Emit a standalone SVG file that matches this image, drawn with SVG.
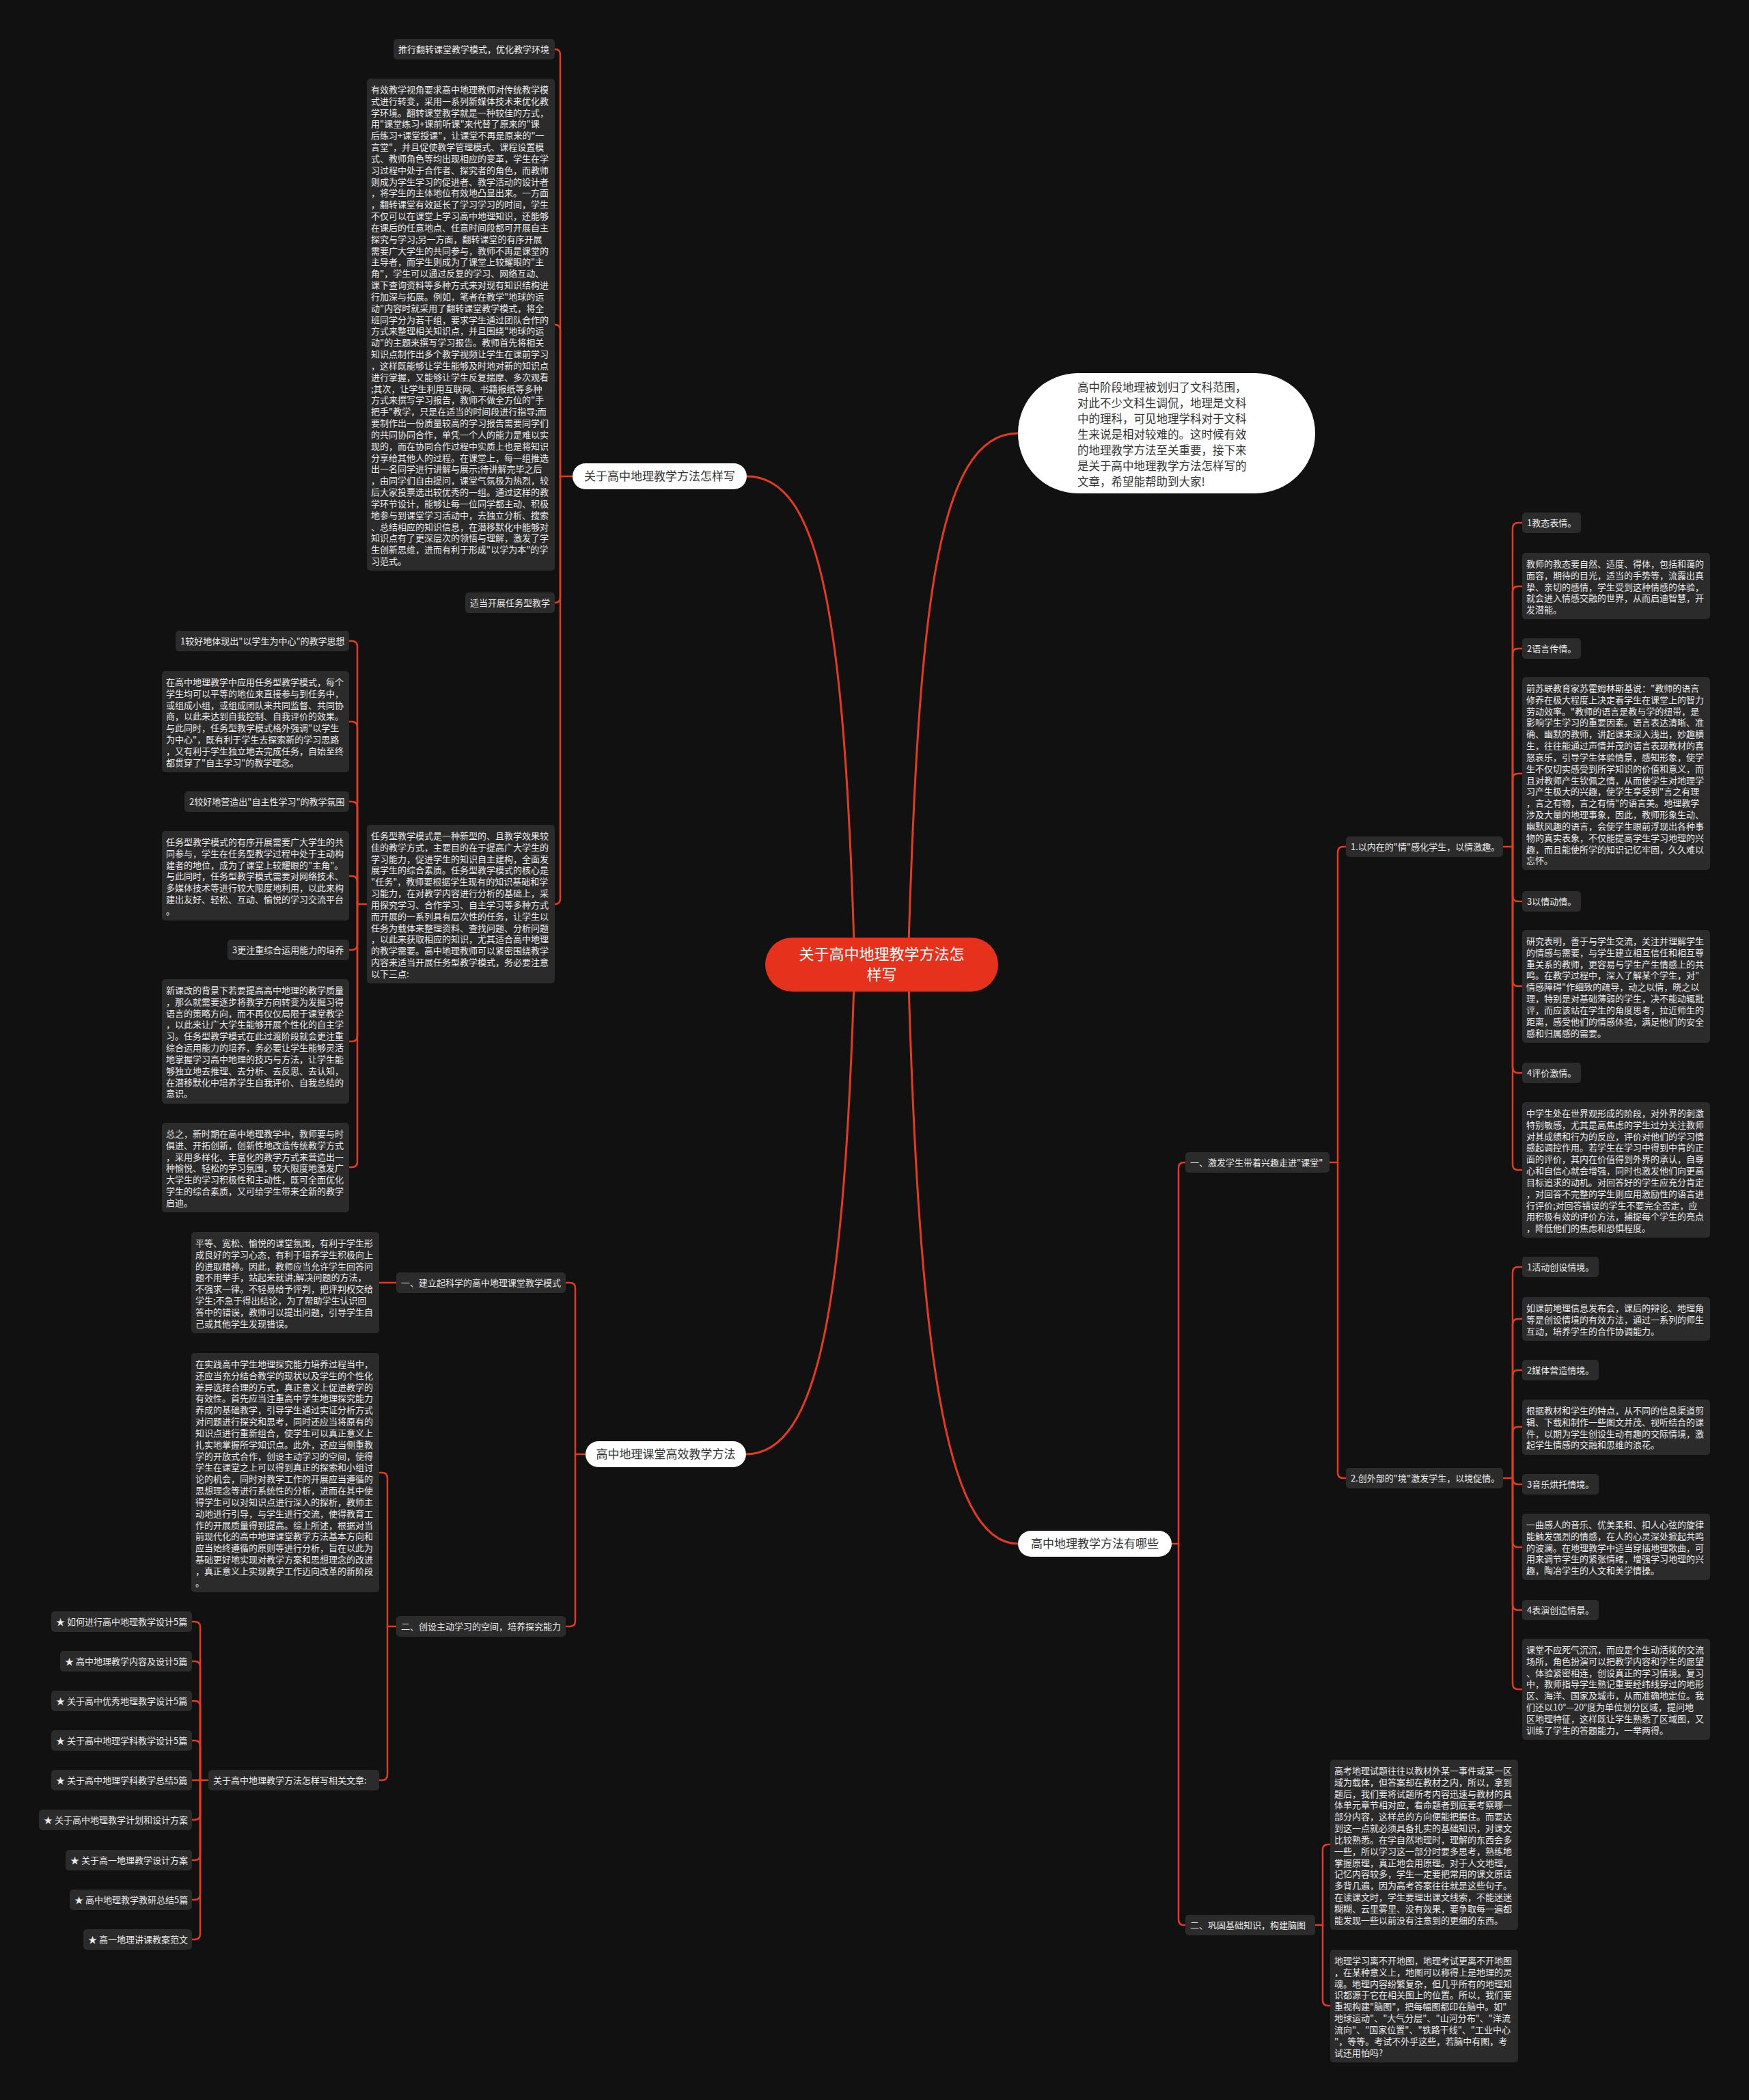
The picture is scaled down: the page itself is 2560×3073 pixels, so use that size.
<svg xmlns="http://www.w3.org/2000/svg" width="2560" height="3073" viewBox="0 0 2560 3073">
<style>
.bg{fill:#111111}
.b{fill:#2b2b2b}
.t{font-family:"Noto Sans CJK SC","Noto Sans",sans-serif;font-size:13px;fill:#ececec}
.w{fill:#ffffff}
.wt{font-family:"Noto Sans CJK SC","Noto Sans",sans-serif;font-size:17px;fill:#333333;text-anchor:middle}
.ct{font-family:"Noto Sans CJK SC","Noto Sans",sans-serif;font-size:16.5px;fill:#333333}
.rt{font-family:"Noto Sans CJK SC","Noto Sans",sans-serif;font-size:22px;fill:#ffffff;text-anchor:middle}
.l{fill:none;stroke:#e33b21;stroke-width:2.5;stroke-linecap:round;stroke-linejoin:round}
.lm{fill:none;stroke:#e33b21;stroke-width:3;stroke-linecap:round}
</style>
<rect class="bg" x="0" y="0" width="2560" height="3073"/>

<g id="connectors">
<path class="lm" d="M1330,1380 C1345,900 1370,634 1490,634"/>
<path class="lm" d="M1330,1440 C1345,1950 1380,2259 1490,2259"/>
<path class="lm" d="M1250,1380 C1235,900 1200,697 1093,697"/>
<path class="lm" d="M1250,1440 C1235,1900 1200,2128 1092,2128"/>
<path class="l" d="M838,697 H820"/>
<path class="l" d="M820,697 V80 Q820,72 812,72"/>
<path class="l" d="M820,697 V483 Q820,475 812,475"/>
<path class="l" d="M820,697 V874 Q820,882 812,882"/>
<path class="l" d="M820,697 V1315 Q820,1323 812,1323"/>
<path class="l" d="M537,1323 H523"/>
<path class="l" d="M523,1323 V946 Q523,938 515,938 H511"/>
<path class="l" d="M523,1323 V1064 Q523,1056 515,1056 H511"/>
<path class="l" d="M523,1323 V1181 Q523,1173 515,1173 H511"/>
<path class="l" d="M523,1323 V1290 Q523,1282 515,1282 H511"/>
<path class="l" d="M523,1323 V1382 Q523,1390 515,1390 H511"/>
<path class="l" d="M523,1323 V1516 Q523,1524 515,1524 H511"/>
<path class="l" d="M523,1323 V1700 Q523,1708 515,1708 H511"/>
<path class="l" d="M857,2128 H842"/>
<path class="l" d="M842,2128 V1885 Q842,1877 834,1877 H828"/>
<path class="l" d="M842,2128 V2372 Q842,2380 834,2380 H828"/>
<path class="l" d="M580,1877 H555"/>
<path class="l" d="M580,2380 H567"/>
<path class="l" d="M567,2380 V2163 Q567,2155 559,2155 H555"/>
<path class="l" d="M567,2380 V2597 Q567,2605 559,2605 H555"/>
<path class="l" d="M305,2605 H281"/>
<path class="l" d="M293,2605 V2381 Q293,2373 285,2373 H281"/>
<path class="l" d="M293,2605 V2439 Q293,2431 285,2431 H281"/>
<path class="l" d="M293,2605 V2497 Q293,2489 285,2489 H281"/>
<path class="l" d="M293,2605 V2555 Q293,2547 285,2547 H281"/>
<path class="l" d="M293,2605 V2655 Q293,2663 285,2663 H281"/>
<path class="l" d="M293,2605 V2714 Q293,2722 285,2722 H281"/>
<path class="l" d="M293,2605 V2772 Q293,2780 285,2780 H281"/>
<path class="l" d="M293,2605 V2830 Q293,2838 285,2838 H281"/>
<path class="l" d="M1715,2259 H1725"/>
<path class="l" d="M1725,2259 V1709 Q1725,1701 1733,1701 H1735"/>
<path class="l" d="M1725,2259 V2809 Q1725,2817 1733,2817 H1735"/>
<path class="l" d="M1946,1701 H1958"/>
<path class="l" d="M1958,1701 V1247 Q1958,1239 1966,1239 H1970"/>
<path class="l" d="M1958,1701 V2155 Q1958,2163 1966,2163 H1970"/>
<path class="l" d="M2200,1239 H2214"/>
<path class="l" d="M2214,1239 V773 Q2214,765 2222,765 H2228"/>
<path class="l" d="M2214,1239 V866 Q2214,858 2222,858 H2228"/>
<path class="l" d="M2214,1239 V957 Q2214,949 2222,949 H2228"/>
<path class="l" d="M2214,1239 V1140 Q2214,1132 2222,1132 H2228"/>
<path class="l" d="M2214,1239 V1311 Q2214,1319 2222,1319 H2228"/>
<path class="l" d="M2214,1239 V1435 Q2214,1443 2222,1443 H2228"/>
<path class="l" d="M2214,1239 V1562 Q2214,1570 2222,1570 H2228"/>
<path class="l" d="M2214,1239 V1704 Q2214,1712 2222,1712 H2228"/>
<path class="l" d="M2200,2163 H2214"/>
<path class="l" d="M2214,2163 V1862 Q2214,1854 2222,1854 H2228"/>
<path class="l" d="M2214,2163 V1938 Q2214,1930 2222,1930 H2228"/>
<path class="l" d="M2214,2163 V2013 Q2214,2005 2222,2005 H2228"/>
<path class="l" d="M2214,2163 V2096 Q2214,2088 2222,2088 H2228"/>
<path class="l" d="M2214,2163 V2164 Q2214,2172 2222,2172 H2228"/>
<path class="l" d="M2214,2163 V2256 Q2214,2264 2222,2264 H2228"/>
<path class="l" d="M2214,2163 V2348 Q2214,2356 2222,2356 H2228"/>
<path class="l" d="M2214,2163 V2464 Q2214,2472 2222,2472 H2228"/>
<path class="l" d="M1925,2817 H1936"/>
<path class="l" d="M1936,2817 V2707 Q1936,2699 1944,2699 H1947"/>
<path class="l" d="M1936,2817 V2927 Q1936,2935 1944,2935 H1947"/>
</g>

<g id="root">
<rect x="1120" y="1372" width="341" height="79" rx="39.5" fill="#e6321c"/>
<text class="rt" x="1290.5" y="1404">关于高中地理教学方法怎</text>
<text class="rt" x="1290.5" y="1434">样写</text>
</g>

<g id="intro">
<rect class="w" x="1490" y="546" width="435" height="176" rx="88"/>
<text class="ct" x="1577" y="573"><tspan x="1577">高中阶段地理被划归了文科范围，</tspan><tspan x="1577" dy="23">对此不少文科生调侃，地理是文科</tspan><tspan x="1577" dy="23">中的理科，可见地理学科对于文科</tspan><tspan x="1577" dy="23">生来说是相对较难的。这时候有效</tspan><tspan x="1577" dy="23">的地理教学方法至关重要，接下来</tspan><tspan x="1577" dy="23">是关于高中地理教学方法怎样写的</tspan><tspan x="1577" dy="23">文章，希望能帮助到大家!</tspan></text>
</g>

<g id="b-write">
<rect class="w" x="838" y="678" width="255" height="38" rx="19"/>
<text class="wt" x="965.5" y="703">关于高中地理教学方法怎样写</text>
</g>

<g id="n-flip">
<rect class="b" x="576" y="57" width="236" height="30" rx="5"/>
<text class="t" x="583" y="77">推行翻转课堂教学模式，优化教学环境</text>
</g>

<g id="n-flip-text">
<rect class="b" x="537" y="115" width="275" height="720" rx="5"/>
<text class="t" x="543" y="136"><tspan x="543">有效教学视角要求高中地理教师对传统教学模</tspan><tspan x="543" dy="16.83">式进行转变，采用一系列新媒体技术来优化教</tspan><tspan x="543" dy="16.83">学环境。翻转课堂教学就是一种较佳的方式，</tspan><tspan x="543" dy="16.83">用"课堂练习+课前听课"来代替了原来的"课</tspan><tspan x="543" dy="16.83">后练习+课堂授课"，让课堂不再是原来的"一</tspan><tspan x="543" dy="16.83">言堂"，并且促使教学管理模式、课程设置模</tspan><tspan x="543" dy="16.83">式、教师角色等均出现相应的变革，学生在学</tspan><tspan x="543" dy="16.83">习过程中处于合作者、探究者的角色，而教师</tspan><tspan x="543" dy="16.83">则成为学生学习的促进者、教学活动的设计者</tspan><tspan x="543" dy="16.83">，将学生的主体地位有效地凸显出来。一方面</tspan><tspan x="543" dy="16.83">，翻转课堂有效延长了学习学习的时间，学生</tspan><tspan x="543" dy="16.83">不仅可以在课堂上学习高中地理知识，还能够</tspan><tspan x="543" dy="16.83">在课后的任意地点、任意时间段都可开展自主</tspan><tspan x="543" dy="16.83">探究与学习;另一方面，翻转课堂的有序开展</tspan><tspan x="543" dy="16.83">需要广大学生的共同参与，教师不再是课堂的</tspan><tspan x="543" dy="16.83">主导者，而学生则成为了课堂上较耀眼的"主</tspan><tspan x="543" dy="16.83">角"，学生可以通过反复的学习、网络互动、</tspan><tspan x="543" dy="16.83">课下查询资料等多种方式来对现有知识结构进</tspan><tspan x="543" dy="16.83">行加深与拓展。例如，笔者在教学"地球的运</tspan><tspan x="543" dy="16.83">动"内容时就采用了翻转课堂教学模式，将全</tspan><tspan x="543" dy="16.83">班同学分为若干组，要求学生通过团队合作的</tspan><tspan x="543" dy="16.83">方式来整理相关知识点，并且围绕"地球的运</tspan><tspan x="543" dy="16.83">动"的主题来撰写学习报告。教师首先将相关</tspan><tspan x="543" dy="16.83">知识点制作出多个教学视频让学生在课前学习</tspan><tspan x="543" dy="16.83">，这样既能够让学生能够及时地对新的知识点</tspan><tspan x="543" dy="16.83">进行掌握，又能够让学生反复揣摩、多次观看</tspan><tspan x="543" dy="16.83">;其次，让学生利用互联网、书籍报纸等多种</tspan><tspan x="543" dy="16.83">方式来撰写学习报告，教师不做全方位的"手</tspan><tspan x="543" dy="16.83">把手"教学，只是在适当的时间段进行指导;而</tspan><tspan x="543" dy="16.83">要制作出一份质量较高的学习报告需要同学们</tspan><tspan x="543" dy="16.83">的共同协同合作，单凭一个人的能力是难以实</tspan><tspan x="543" dy="16.83">现的，而在协同合作过程中实质上也是将知识</tspan><tspan x="543" dy="16.83">分享给其他人的过程。在课堂上，每一组推选</tspan><tspan x="543" dy="16.83">出一名同学进行讲解与展示;待讲解完毕之后</tspan><tspan x="543" dy="16.83">，由同学们自由提问，课堂气氛极为热烈，较</tspan><tspan x="543" dy="16.83">后大家投票选出较优秀的一组。通过这样的教</tspan><tspan x="543" dy="16.83">学环节设计，能够让每一位同学都主动、积极</tspan><tspan x="543" dy="16.83">地参与到课堂学习活动中，去独立分析、搜索</tspan><tspan x="543" dy="16.83">、总结相应的知识信息，在潜移默化中能够对</tspan><tspan x="543" dy="16.83">知识点有了更深层次的领悟与理解，激发了学</tspan><tspan x="543" dy="16.83">生创新思维，进而有利于形成"以学为本"的学</tspan><tspan x="543" dy="16.83">习范式。</tspan></text>
</g>

<g id="n-task">
<rect class="b" x="681" y="867" width="131" height="30" rx="5"/>
<text class="t" x="688" y="887">适当开展任务型教学</text>
</g>

<g id="n-task-text">
<rect class="b" x="537" y="1207" width="275" height="232" rx="5"/>
<text class="t" x="543" y="1228"><tspan x="543">任务型教学模式是一种新型的、且教学效果较</tspan><tspan x="543" dy="16.83">佳的教学方式，主要目的在于提高广大学生的</tspan><tspan x="543" dy="16.83">学习能力，促进学生的知识自主建构，全面发</tspan><tspan x="543" dy="16.83">展学生的综合素质。任务型教学模式的核心是</tspan><tspan x="543" dy="16.83">"任务"，教师要根据学生现有的知识基础和学</tspan><tspan x="543" dy="16.83">习能力，在对教学内容进行分析的基础上，采</tspan><tspan x="543" dy="16.83">用探究学习、合作学习、自主学习等多种方式</tspan><tspan x="543" dy="16.83">而开展的一系列具有层次性的任务，让学生以</tspan><tspan x="543" dy="16.83">任务为载体来整理资料、查找问题、分析问题</tspan><tspan x="543" dy="16.83">，以此来获取相应的知识，尤其适合高中地理</tspan><tspan x="543" dy="16.83">的教学需要。高中地理教师可以紧密围绕教学</tspan><tspan x="543" dy="16.83">内容来适当开展任务型教学模式，务必要注意</tspan><tspan x="543" dy="16.83">以下三点:</tspan></text>
</g>

<g id="n-t1">
<rect class="b" x="257" y="923" width="254" height="30" rx="5"/>
<text class="t" x="264" y="943">1较好地体现出"以学生为中心"的教学思想</text>
</g>
<g id="n-t1-text">
<rect class="b" x="237" y="982" width="274" height="148" rx="5"/>
<text class="t" x="243" y="1003"><tspan x="243">在高中地理教学中应用任务型教学模式，每个</tspan><tspan x="243" dy="16.83">学生均可以平等的地位来直接参与到任务中，</tspan><tspan x="243" dy="16.83">或组成小组，或组成团队来共同监督、共同协</tspan><tspan x="243" dy="16.83">商，以此来达到自我控制、自我评价的效果。</tspan><tspan x="243" dy="16.83">与此同时，任务型教学模式格外强调"以学生</tspan><tspan x="243" dy="16.83">为中心"，既有利于学生去探索新的学习思路</tspan><tspan x="243" dy="16.83">，又有利于学生独立地去完成任务，自始至终</tspan><tspan x="243" dy="16.83">都贯穿了"自主学习"的教学理念。</tspan></text>
</g>
<g id="n-t2">
<rect class="b" x="270" y="1158" width="241" height="30" rx="5"/>
<text class="t" x="277" y="1178">2较好地营造出"自主性学习"的教学氛围</text>
</g>
<g id="n-t2-text">
<rect class="b" x="237" y="1216" width="274" height="131" rx="5"/>
<text class="t" x="243" y="1237"><tspan x="243">任务型教学模式的有序开展需要广大学生的共</tspan><tspan x="243" dy="16.83">同参与，学生在任务型教学过程中处于主动构</tspan><tspan x="243" dy="16.83">建者的地位，成为了课堂上较耀眼的"主角"。</tspan><tspan x="243" dy="16.83">与此同时，任务型教学模式需要对网络技术、</tspan><tspan x="243" dy="16.83">多媒体技术等进行较大限度地利用，以此来构</tspan><tspan x="243" dy="16.83">建出友好、轻松、互动、愉悦的学习交流平台</tspan><tspan x="243" dy="16.83">。</tspan></text>
</g>
<g id="n-t3">
<rect class="b" x="333" y="1375" width="178" height="30" rx="5"/>
<text class="t" x="340" y="1395">3更注重综合运用能力的培养</text>
</g>
<g id="n-t3-text">
<rect class="b" x="237" y="1433" width="274" height="182" rx="5"/>
<text class="t" x="243" y="1454"><tspan x="243">新课改的背景下若要提高高中地理的教学质量</tspan><tspan x="243" dy="16.83">，那么就需要逐步将教学方向转变为发掘习得</tspan><tspan x="243" dy="16.83">语言的策略方向，而不再仅仅局限于课堂教学</tspan><tspan x="243" dy="16.83">，以此来让广大学生能够开展个性化的自主学</tspan><tspan x="243" dy="16.83">习。任务型教学模式在此过渡阶段就会更注重</tspan><tspan x="243" dy="16.83">综合运用能力的培养，务必要让学生能够灵活</tspan><tspan x="243" dy="16.83">地掌握学习高中地理的技巧与方法，让学生能</tspan><tspan x="243" dy="16.83">够独立地去推理、去分析、去反思、去认知，</tspan><tspan x="243" dy="16.83">在潜移默化中培养学生自我评价、自我总结的</tspan><tspan x="243" dy="16.83">意识。</tspan></text>
</g>
<g id="n-t4-text">
<rect class="b" x="237" y="1643" width="274" height="131" rx="5"/>
<text class="t" x="243" y="1664"><tspan x="243">总之，新时期在高中地理教学中，教师要与时</tspan><tspan x="243" dy="16.83">俱进、开拓创新，创新性地改造传统教学方式</tspan><tspan x="243" dy="16.83">，采用多样化、丰富化的教学方式来营造出一</tspan><tspan x="243" dy="16.83">种愉悦、轻松的学习氛围，较大限度地激发广</tspan><tspan x="243" dy="16.83">大学生的学习积极性和主动性，既可全面优化</tspan><tspan x="243" dy="16.83">学生的综合素质，又可给学生带来全新的教学</tspan><tspan x="243" dy="16.83">启迪。</tspan></text>
</g>

<g id="b-class">
<rect class="w" x="857" y="2109" width="235" height="38" rx="19"/>
<text class="wt" x="974.5" y="2134">高中地理课堂高效教学方法</text>
</g>
<g id="n-c1">
<rect class="b" x="580" y="1862" width="248" height="30" rx="5"/>
<text class="t" x="587" y="1882">一、建立起科学的高中地理课堂教学模式</text>
</g>
<g id="n-c1-text">
<rect class="b" x="280" y="1803" width="275" height="148" rx="5"/>
<text class="t" x="286" y="1824"><tspan x="286">平等、宽松、愉悦的课堂氛围，有利于学生形</tspan><tspan x="286" dy="16.83">成良好的学习心态，有利于培养学生积极向上</tspan><tspan x="286" dy="16.83">的进取精神。因此，教师应当允许学生回答问</tspan><tspan x="286" dy="16.83">题不用举手，站起来就讲;解决问题的方法，</tspan><tspan x="286" dy="16.83">不强求一律。不轻易给予评判，把评判权交给</tspan><tspan x="286" dy="16.83">学生;不急于得出结论，为了帮助学生认识回</tspan><tspan x="286" dy="16.83">答中的错误，教师可以提出问题，引导学生自</tspan><tspan x="286" dy="16.83">己或其他学生发现错误。</tspan></text>
</g>
<g id="n-c2">
<rect class="b" x="580" y="2365" width="248" height="30" rx="5"/>
<text class="t" x="587" y="2385">二、创设主动学习的空间，培养探究能力</text>
</g>
<g id="n-c2-text">
<rect class="b" x="280" y="1980" width="275" height="350" rx="5"/>
<text class="t" x="286" y="2001"><tspan x="286">在实践高中学生地理探究能力培养过程当中，</tspan><tspan x="286" dy="16.83">还应当充分结合教学的现状以及学生的个性化</tspan><tspan x="286" dy="16.83">差异选择合理的方式，真正意义上促进教学的</tspan><tspan x="286" dy="16.83">有效性。首先应当注重高中学生地理探究能力</tspan><tspan x="286" dy="16.83">养成的基础教学，引导学生通过实证分析方式</tspan><tspan x="286" dy="16.83">对问题进行探究和思考，同时还应当将原有的</tspan><tspan x="286" dy="16.83">知识点进行重新组合，使学生可以真正意义上</tspan><tspan x="286" dy="16.83">扎实地掌握所学知识点。此外，还应当侧重教</tspan><tspan x="286" dy="16.83">学的开放式合作，创设主动学习的空间，使得</tspan><tspan x="286" dy="16.83">学生在课堂之上可以得到真正的探索和小组讨</tspan><tspan x="286" dy="16.83">论的机会，同时对教学工作的开展应当遵循的</tspan><tspan x="286" dy="16.83">思想理念等进行系统性的分析，进而在其中使</tspan><tspan x="286" dy="16.83">得学生可以对知识点进行深入的探析，教师主</tspan><tspan x="286" dy="16.83">动地进行引导，与学生进行交流，使得教育工</tspan><tspan x="286" dy="16.83">作的开展质量得到提高。综上所述，根据对当</tspan><tspan x="286" dy="16.83">前现代化的高中地理课堂教学方法基本方向和</tspan><tspan x="286" dy="16.83">应当始终遵循的原则等进行分析，旨在以此为</tspan><tspan x="286" dy="16.83">基础更好地实现对教学方案和思想理念的改进</tspan><tspan x="286" dy="16.83">，真正意义上实现教学工作迈向改革的新阶段</tspan><tspan x="286" dy="16.83">。</tspan></text>
</g>
<g id="n-rel">
<rect class="b" x="305" y="2590" width="250" height="30" rx="5"/>
<text class="t" x="312" y="2610">关于高中地理教学方法怎样写相关文章:</text>
</g>
<g id="n-rel1"><rect class="b" x="75" y="2358" width="206" height="30" rx="5"/><text class="t" x="82" y="2378">★ 如何进行高中地理教学设计5篇</text></g>
<g id="n-rel2"><rect class="b" x="88" y="2416" width="193" height="30" rx="5"/><text class="t" x="95" y="2436">★ 高中地理教学内容及设计5篇</text></g>
<g id="n-rel3"><rect class="b" x="75" y="2474" width="206" height="30" rx="5"/><text class="t" x="82" y="2494">★ 关于高中优秀地理教学设计5篇</text></g>
<g id="n-rel4"><rect class="b" x="75" y="2532" width="206" height="30" rx="5"/><text class="t" x="82" y="2552">★ 关于高中地理学科教学设计5篇</text></g>
<g id="n-rel5"><rect class="b" x="75" y="2590" width="206" height="30" rx="5"/><text class="t" x="82" y="2610">★ 关于高中地理学科教学总结5篇</text></g>
<g id="n-rel6"><rect class="b" x="57" y="2648" width="224" height="30" rx="5"/><text class="t" x="64" y="2668">★ 关于高中地理教学计划和设计方案</text></g>
<g id="n-rel7"><rect class="b" x="96" y="2707" width="185" height="30" rx="5"/><text class="t" x="103" y="2727">★ 关于高一地理教学设计方案</text></g>
<g id="n-rel8"><rect class="b" x="102" y="2765" width="179" height="30" rx="5"/><text class="t" x="109" y="2785">★ 高中地理教学教研总结5篇</text></g>
<g id="n-rel9"><rect class="b" x="122" y="2823" width="159" height="30" rx="5"/><text class="t" x="129" y="2843">★ 高一地理讲课教案范文</text></g>

<g id="b-methods">
<rect class="w" x="1490" y="2240" width="225" height="38" rx="19"/>
<text class="wt" x="1602.5" y="2265">高中地理教学方法有哪些</text>
</g>
<g id="n-m1">
<rect class="b" x="1735" y="1686" width="211" height="30" rx="5"/>
<text class="t" x="1742" y="1706">一、激发学生带着兴趣走进"课堂"</text>
</g>
<g id="n-m1a">
<rect class="b" x="1970" y="1224" width="230" height="30" rx="5"/>
<text class="t" x="1977" y="1244">1.以内在的"情"感化学生，以情激趣。</text>
</g>
<g id="n-a1"><rect class="b" x="2228" y="750" width="86" height="30" rx="5"/><text class="t" x="2235" y="770">1教态表情。</text></g>
<g id="n-a1-text">
<rect class="b" x="2228" y="809" width="275" height="97" rx="5"/>
<text class="t" x="2234" y="830"><tspan x="2234">教师的教态要自然、适度、得体，包括和蔼的</tspan><tspan x="2234" dy="16.83">面容，期待的目光，适当的手势等，流露出真</tspan><tspan x="2234" dy="16.83">挚、亲切的感情，学生受到这种情感的体验，</tspan><tspan x="2234" dy="16.83">就会进入情感交融的世界，从而启迪智慧，开</tspan><tspan x="2234" dy="16.83">发潜能。</tspan></text>
</g>
<g id="n-a2"><rect class="b" x="2228" y="934" width="86" height="30" rx="5"/><text class="t" x="2235" y="954">2语言传情。</text></g>
<g id="n-a2-text">
<rect class="b" x="2228" y="991" width="275" height="282" rx="5"/>
<text class="t" x="2234" y="1012"><tspan x="2234">前苏联教育家苏霍姆林斯基说："教师的语言</tspan><tspan x="2234" dy="16.83">修养在极大程度上决定着学生在课堂上的智力</tspan><tspan x="2234" dy="16.83">劳动效率。"教师的语言是教与学的纽带，是</tspan><tspan x="2234" dy="16.83">影响学生学习的重要因素。语言表达清晰、准</tspan><tspan x="2234" dy="16.83">确、幽默的教师，讲起课来深入浅出，妙趣横</tspan><tspan x="2234" dy="16.83">生，往往能通过声情并茂的语言表现教材的喜</tspan><tspan x="2234" dy="16.83">怒哀乐，引导学生体验情景，感知形象，使学</tspan><tspan x="2234" dy="16.83">生不仅切实感受到所学知识的价值和意义，而</tspan><tspan x="2234" dy="16.83">且对教师产生钦佩之情，从而使学生对地理学</tspan><tspan x="2234" dy="16.83">习产生极大的兴趣，使学生享受到"言之有理</tspan><tspan x="2234" dy="16.83">，言之有物，言之有情"的语言美。地理教学</tspan><tspan x="2234" dy="16.83">涉及大量的地理事象，因此，教师形象生动、</tspan><tspan x="2234" dy="16.83">幽默风趣的语言，会使学生眼前浮现出各种事</tspan><tspan x="2234" dy="16.83">物的真实表象，不仅能提高学生学习地理的兴</tspan><tspan x="2234" dy="16.83">趣，而且能使所学的知识记忆牢固，久久难以</tspan><tspan x="2234" dy="16.83">忘怀。</tspan></text>
</g>
<g id="n-a3"><rect class="b" x="2228" y="1304" width="86" height="30" rx="5"/><text class="t" x="2235" y="1324">3以情动情。</text></g>
<g id="n-a3-text">
<rect class="b" x="2228" y="1361" width="275" height="165" rx="5"/>
<text class="t" x="2234" y="1382"><tspan x="2234">研究表明，善于与学生交流，关注并理解学生</tspan><tspan x="2234" dy="16.83">的情感与需要，与学生建立相互信任和相互尊</tspan><tspan x="2234" dy="16.83">重关系的教师，更容易与学生产生情感上的共</tspan><tspan x="2234" dy="16.83">鸣。在教学过程中，深入了解某个学生，对"</tspan><tspan x="2234" dy="16.83">情感障碍"作细致的疏导，动之以情，晓之以</tspan><tspan x="2234" dy="16.83">理，特别是对基础薄弱的学生，决不能动辄批</tspan><tspan x="2234" dy="16.83">评，而应该站在学生的角度思考，拉近师生的</tspan><tspan x="2234" dy="16.83">距离，感受他们的情感体验，满足他们的安全</tspan><tspan x="2234" dy="16.83">感和归属感的需要。</tspan></text>
</g>
<g id="n-a4"><rect class="b" x="2228" y="1555" width="86" height="30" rx="5"/><text class="t" x="2235" y="1575">4评价激情。</text></g>
<g id="n-a4-text">
<rect class="b" x="2228" y="1613" width="275" height="198" rx="5"/>
<text class="t" x="2234" y="1634"><tspan x="2234">中学生处在世界观形成的阶段，对外界的刺激</tspan><tspan x="2234" dy="16.83">特别敏感，尤其是高焦虑的学生过分关注教师</tspan><tspan x="2234" dy="16.83">对其成绩和行为的反应，评价对他们的学习情</tspan><tspan x="2234" dy="16.83">感起调控作用。若学生在学习中得到中肯的正</tspan><tspan x="2234" dy="16.83">面的评价，其内在价值得到外界的承认，自尊</tspan><tspan x="2234" dy="16.83">心和自信心就会增强，同时也激发他们向更高</tspan><tspan x="2234" dy="16.83">目标追求的动机。对回答好的学生应充分肯定</tspan><tspan x="2234" dy="16.83">，对回答不完整的学生则应用激励性的语言进</tspan><tspan x="2234" dy="16.83">行评价;对回答错误的学生不要完全否定，应</tspan><tspan x="2234" dy="16.83">用积极有效的评价方法，捕捉每个学生的亮点</tspan><tspan x="2234" dy="16.83">，降低他们的焦虑和恐惧程度。</tspan></text>
</g>

<g id="n-m1b">
<rect class="b" x="1970" y="2148" width="230" height="30" rx="5"/>
<text class="t" x="1977" y="2168">2.创外部的"境"激发学生，以境促情。</text>
</g>
<g id="n-b1"><rect class="b" x="2228" y="1839" width="112" height="30" rx="5"/><text class="t" x="2235" y="1859">1活动创设情境。</text></g>
<g id="n-b1-text">
<rect class="b" x="2228" y="1898" width="275" height="64" rx="5"/>
<text class="t" x="2234" y="1919"><tspan x="2234">如课前地理信息发布会，课后的辩论、地理角</tspan><tspan x="2234" dy="16.83">等是创设情境的有效方法，通过一系列的师生</tspan><tspan x="2234" dy="16.83">互动，培养学生的合作协调能力。</tspan></text>
</g>
<g id="n-b2"><rect class="b" x="2228" y="1990" width="112" height="30" rx="5"/><text class="t" x="2235" y="2010">2媒体营造情境。</text></g>
<g id="n-b2-text">
<rect class="b" x="2228" y="2048" width="275" height="81" rx="5"/>
<text class="t" x="2234" y="2069"><tspan x="2234">根据教材和学生的特点，从不同的信息渠道剪</tspan><tspan x="2234" dy="16.83">辑、下载和制作一些图文并茂、视听结合的课</tspan><tspan x="2234" dy="16.83">件，以期为学生创设生动有趣的交际情境，激</tspan><tspan x="2234" dy="16.83">起学生情感的交融和思维的浪花。</tspan></text>
</g>
<g id="n-b3"><rect class="b" x="2228" y="2157" width="112" height="30" rx="5"/><text class="t" x="2235" y="2177">3音乐烘托情境。</text></g>
<g id="n-b3-text">
<rect class="b" x="2228" y="2215" width="275" height="97" rx="5"/>
<text class="t" x="2234" y="2236"><tspan x="2234">一曲感人的音乐、优美柔和、扣人心弦的旋律</tspan><tspan x="2234" dy="16.83">能触发强烈的情感，在人的心灵深处掀起共鸣</tspan><tspan x="2234" dy="16.83">的波澜。在地理教学中适当穿插地理歌曲，可</tspan><tspan x="2234" dy="16.83">用来调节学生的紧张情绪，增强学习地理的兴</tspan><tspan x="2234" dy="16.83">趣，陶冶学生的人文和美学情操。</tspan></text>
</g>
<g id="n-b4"><rect class="b" x="2228" y="2341" width="112" height="30" rx="5"/><text class="t" x="2235" y="2361">4表演创造情景。</text></g>
<g id="n-b4-text">
<rect class="b" x="2228" y="2398" width="275" height="148" rx="5"/>
<text class="t" x="2234" y="2419"><tspan x="2234">课堂不应死气沉沉，而应是个生动活拨的交流</tspan><tspan x="2234" dy="16.83">场所，角色扮演可以把教学内容和学生的愿望</tspan><tspan x="2234" dy="16.83">、体验紧密相连，创设真正的学习情境。复习</tspan><tspan x="2234" dy="16.83">中，教师指导学生熟记重要经纬线穿过的地形</tspan><tspan x="2234" dy="16.83">区、海洋、国家及城市，从而准确地定位。我</tspan><tspan x="2234" dy="16.83">们还以10°—20°度为单位划分区域，提问地</tspan><tspan x="2234" dy="16.83">区地理特征，这样既让学生熟悉了区域图，又</tspan><tspan x="2234" dy="16.83">训练了学生的答题能力，一举两得。</tspan></text>
</g>

<g id="n-m2">
<rect class="b" x="1735" y="2802" width="190" height="30" rx="5"/>
<text class="t" x="1742" y="2822">二、巩固基础知识，构建脑图</text>
</g>
<g id="n-m2-a">
<rect class="b" x="1947" y="2575" width="275" height="249" rx="5"/>
<text class="t" x="1953" y="2596"><tspan x="1953">高考地理试题往往以教材外某一事件或某一区</tspan><tspan x="1953" dy="16.83">域为载体，但答案却在教材之内，所以，拿到</tspan><tspan x="1953" dy="16.83">题后，我们要将试题所考内容迅速与教材的具</tspan><tspan x="1953" dy="16.83">体单元章节相对应，看命题者到底要考察哪一</tspan><tspan x="1953" dy="16.83">部分内容，这样总的方向便能把握住。而要达</tspan><tspan x="1953" dy="16.83">到这一点就必须具备扎实的基础知识，对课文</tspan><tspan x="1953" dy="16.83">比较熟悉。在学自然地理时，理解的东西会多</tspan><tspan x="1953" dy="16.83">一些，所以学习这一部分时要多思考，熟练地</tspan><tspan x="1953" dy="16.83">掌握原理，真正地会用原理。对于人文地理，</tspan><tspan x="1953" dy="16.83">记忆内容较多，学生一定要把常用的课文原话</tspan><tspan x="1953" dy="16.83">多背几遍，因为高考答案往往就是这些句子。</tspan><tspan x="1953" dy="16.83">在读课文时，学生要理出课文线索，不能迷迷</tspan><tspan x="1953" dy="16.83">糊糊、云里雾里、没有效果，要争取每一遍都</tspan><tspan x="1953" dy="16.83">能发现一些以前没有注意到的更细的东西。</tspan></text>
</g>
<g id="n-m2-b">
<rect class="b" x="1947" y="2853" width="275" height="165" rx="5"/>
<text class="t" x="1953" y="2874"><tspan x="1953">地理学习离不开地图，地理考试更离不开地图</tspan><tspan x="1953" dy="16.83">，在某种意义上，地图可以称得上是地理的灵</tspan><tspan x="1953" dy="16.83">魂。地理内容纷繁复杂，但几乎所有的地理知</tspan><tspan x="1953" dy="16.83">识都源于它在相关图上的位置。所以，我们要</tspan><tspan x="1953" dy="16.83">重视构建"脑图"，把每幅图都印在脑中。如"</tspan><tspan x="1953" dy="16.83">地球运动"、"大气分层"、"山河分布"、"洋流</tspan><tspan x="1953" dy="16.83">流向"、"国家位置"、"铁路干线"、"工业中心</tspan><tspan x="1953" dy="16.83">"，等等。考试不外乎这些，若脑中有图，考</tspan><tspan x="1953" dy="16.83">试还用怕吗?</tspan></text>
</g>
</svg>
